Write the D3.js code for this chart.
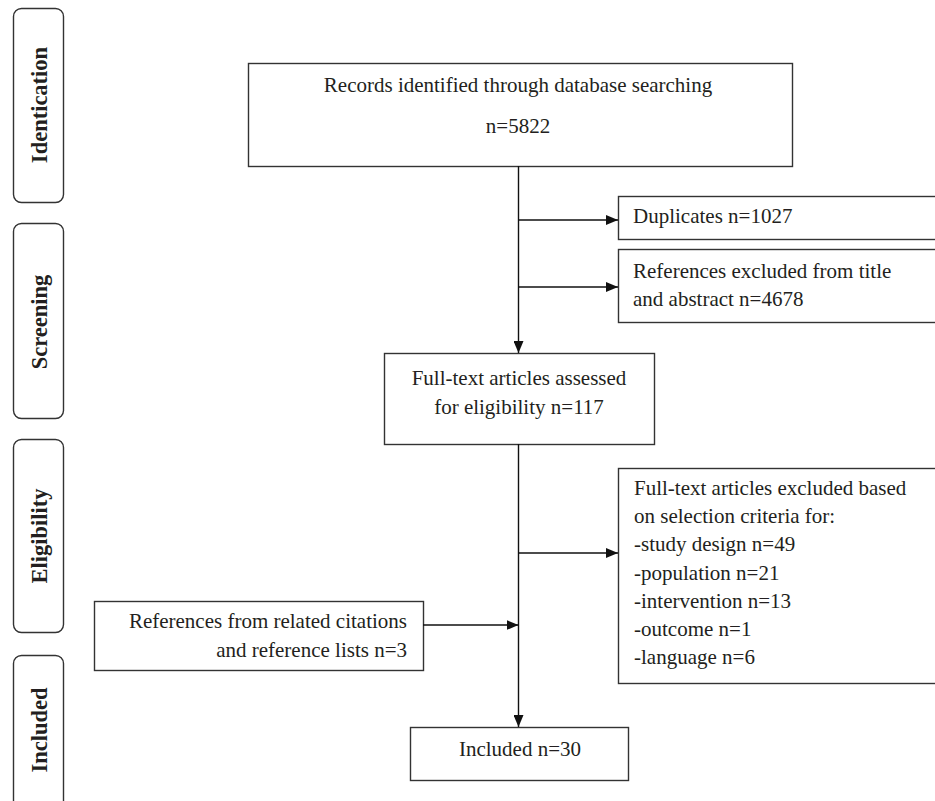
<!DOCTYPE html>
<html>
<head>
<meta charset="utf-8">
<script src="https://cdn.jsdelivr.net/npm/d3@7"></script>
<style>
  body { margin: 0; background: #fff; }
  svg text { font-family: "Liberation Serif", "Times New Roman", serif; fill: #231f20; }
</style>
</head>
<body>
<div id="flow"></div>
<script>
// stage labels down the left side
var stages = ["Identication", "Screening", "Eligibility", "Included"];

// box texts (one entry per line)
var recordsText = ["Records identified through database searching", "n=5822"];
var duplicatesText = ["Duplicates n=1027"];
var screenedOutText = ["References excluded from title", "and abstract n=4678"];
var assessedText = ["Full-text articles assessed", "for eligibility n=117"];
var excludedText = ["Full-text articles excluded based", "on selection criteria for:",
                    "-study design n=49", "-population n=21", "-intervention n=13",
                    "-outcome n=1", "-language n=6"];
var otherSourcesText = ["References from related citations", "and reference lists n=3"];
var includedText = ["Included n=30"];

var width = 935, height = 801;
var stroke = "#333";

var svg = d3.select("#flow")
  .append("svg")
    .attr("width", width)
    .attr("height", height);

svg.append("defs").append("marker")
    .attr("id", "arrow")
    .attr("viewBox", "0 0 12 10")
    .attr("refX", 12)
    .attr("refY", 5)
    .attr("markerWidth", 12)
    .attr("markerHeight", 10)
    .attr("markerUnits", "userSpaceOnUse")
    .attr("orient", "auto")
  .append("path")
    .attr("d", "M0,0 L12,5 L0,10 Z")
    .attr("fill", "#111");

// stage pills
var stageBoxes = [
  {y0: 8, y1: 202, cy: 105},
  {y0: 223, y1: 418, cy: 322},
  {y0: 439, y1: 632, cy: 536},
  {y0: 655, y1: 812, cy: 730}
];

var stageG = svg.append("g")
  .selectAll("g")
  .data(stages)
  .enter()
  .append("g");

stageG.append("rect")
    .attr("x", 13.5)
    .attr("y", function(d, i) { return stageBoxes[i].y0 + 0.5; })
    .attr("width", 50)
    .attr("height", function(d, i) { return stageBoxes[i].y1 - stageBoxes[i].y0; })
    .attr("rx", 8)
    .attr("fill", "none")
    .attr("stroke", stroke)
    .attr("stroke-width", 1.4);

stageG.append("text")
    .attr("transform", function(d, i) {
      return "translate(47," + stageBoxes[i].cy + ") rotate(-90)";
    })
    .style("text-anchor", "middle")
    .style("font-weight", "bold")
    .style("font-size", "22.5px")
    .text(function(d) { return d; });

// boxes
var boxes = [
  {lines: recordsText, x0: 248, x1: 792, y0: 63, y1: 166, anchor: "middle", tx: 518, ty: 92, lh: 41},
  {lines: duplicatesText, x0: 618, x1: 945, y0: 196, y1: 239, anchor: "start", tx: 633, ty: 223, lh: 28},
  {lines: screenedOutText, x0: 618, x1: 945, y0: 249, y1: 322, anchor: "start", tx: 633, ty: 278, lh: 28},
  {lines: assessedText, x0: 384, x1: 654, y0: 353, y1: 444, anchor: "middle", tx: 519, ty: 385, lh: 29},
  {lines: excludedText, x0: 618, x1: 945, y0: 468, y1: 683, anchor: "start", tx: 634, ty: 495, lh: 28.2},
  {lines: otherSourcesText, x0: 94, x1: 423, y0: 601, y1: 670, anchor: "end", tx: 407, ty: 628, lh: 29},
  {lines: includedText, x0: 410, x1: 628, y0: 727, y1: 780, anchor: "middle", tx: 520, ty: 756, lh: 28}
];

var boxG = svg.append("g")
  .selectAll("g")
  .data(boxes)
  .enter()
  .append("g");

boxG.append("rect")
    .attr("x", function(d) { return d.x0 + 0.5; })
    .attr("y", function(d) { return d.y0 + 0.5; })
    .attr("width", function(d) { return d.x1 - d.x0; })
    .attr("height", function(d) { return d.y1 - d.y0; })
    .attr("fill", "#fff")
    .attr("stroke", stroke)
    .attr("stroke-width", 1.4);

boxG.append("text")
    .style("text-anchor", function(d) { return d.anchor; })
    .style("font-size", "21px")
    .selectAll("tspan")
    .data(function(d) { return d.lines.map(function(l, i) { return {t: l, x: d.tx, y: d.ty + i * d.lh}; }); })
    .enter()
    .append("tspan")
      .attr("x", function(d) { return d.x; })
      .attr("y", function(d) { return d.y; })
      .text(function(d) { return d.t; });

// connectors
var mainX = 518.5;
var links = [
  {x1: mainX, y1: 166, x2: mainX, y2: 353},
  {x1: mainX, y1: 220, x2: 618, y2: 220},
  {x1: mainX, y1: 287, x2: 618, y2: 287},
  {x1: mainX, y1: 444, x2: mainX, y2: 727},
  {x1: mainX, y1: 553, x2: 618, y2: 553},
  {x1: 423, y1: 625, x2: mainX, y2: 625}
];

svg.append("g")
  .selectAll("line")
  .data(links)
  .enter()
  .append("line")
    .attr("x1", function(d) { return d.x1; })
    .attr("y1", function(d) { return d.y1; })
    .attr("x2", function(d) { return d.x2; })
    .attr("y2", function(d) { return d.y2; })
    .attr("stroke", "#111")
    .attr("stroke-width", 1.4)
    .attr("marker-end", "url(#arrow)");
</script>
</body>
</html>
